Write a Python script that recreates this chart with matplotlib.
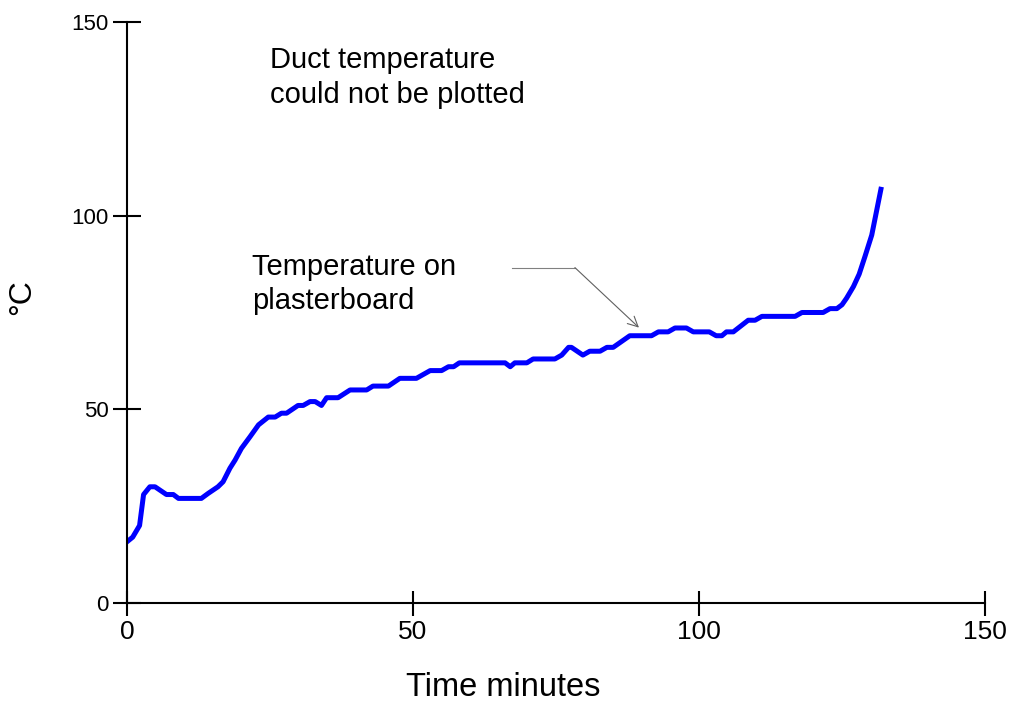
import matplotlib.pyplot as plt

plt.rcParams['font.family'] = ['Liberation Sans', 'DejaVu Sans']

# time (minutes) and temperature on plasterboard (deg C)
time_min = [0, 1.0, 2.2, 2.9, 4.0, 4.9, 6.9, 8.1, 9.0, 13.0, 14.2, 15.9, 16.8, 18.0,
            18.9, 20.0, 21.5, 23.0, 24.7, 25.9, 27.0, 27.9, 29.9, 30.8, 32.0, 32.9,
            34.0, 34.9, 36.9, 39.0, 41.9, 43.0, 45.7, 47.7, 50.6, 53.0, 55.0, 56.2,
            57.1, 58.1, 66.1, 67.0, 67.8, 69.9, 71.0, 74.8, 76.0, 77.2, 77.7, 79.7,
            80.9, 82.7, 83.9, 85.0, 87.9, 91.7, 92.9, 94.6, 95.8, 97.8, 99.0, 101.8,
            103.0, 104.0, 104.8, 106.0, 108.6, 109.8, 111.0, 116.8, 118.0, 121.7,
            122.9, 124.1, 125.0, 125.8, 127.0, 128.0, 129.0, 130.2, 131.8]
temp_c = [15.8, 17, 20, 28, 30, 30, 28, 28, 27, 27, 28.3, 30, 31.3, 34.8,
          36.9, 39.9, 42.9, 46, 48, 48, 49, 49, 51, 51, 52, 52,
          51, 53, 53, 55, 55, 56, 56, 58, 58, 60, 60, 61,
          61, 62, 62, 61, 62, 62, 63, 63, 64, 66, 66, 64,
          65, 65, 66, 66, 69, 69, 70, 70, 71, 71, 70, 70,
          69, 69, 70, 70, 73, 73, 74, 74, 75, 75,
          76, 76, 77, 78.7, 81.7, 84.9, 89.4, 95, 106.8]

xticks = [0, 50, 100, 150]
yticks = [0, 50, 100, 150]

fig = plt.figure(figsize=(10.11, 7.05), dpi=100)
ax = fig.add_axes([0.1256, 0.1447, 0.8487, 0.8241])

ax.plot(time_min, temp_c, color='#0000ff', lw=3.6, solid_joinstyle='round')

ax.set_xlim(0, 150)
ax.set_ylim(0, 150)
ax.set_xticks(xticks)
ax.set_yticks(yticks)
ax.spines['top'].set_visible(False)
ax.spines['right'].set_visible(False)
for s in ['left', 'bottom']:
    ax.spines[s].set_linewidth(1.5)
ax.tick_params(axis='x', direction='inout', length=18, width=1.5, pad=3, labelsize=19)
ax.tick_params(axis='y', direction='inout', length=20, width=1.5, pad=3, labelsize=16)

ax.set_xlabel('Time minutes', fontsize=23.5)
ax.xaxis.set_label_coords(0.438, -0.118)
ax.set_ylabel('°C', fontsize=23)
ax.yaxis.set_label_coords(-0.105, 0.527)

ax.text(25.0, 143.8, 'Duct temperature\ncould not be plotted', fontsize=21,
        va='top', ha='left', linespacing=1.3)
ax.text(21.9, 90.4, 'Temperature on\nplasterboard', fontsize=21,
        va='top', ha='left', linespacing=1.3)

# leader line to the curve
ax.plot([67.3, 78.3], [86.6, 86.6], color='#808080', lw=0.8)
ax.annotate('', xy=(89.5, 71.1), xytext=(78.3, 86.6),
            arrowprops=dict(arrowstyle='->', color='#606060', lw=0.8,
                            shrinkA=0, shrinkB=0, mutation_scale=18))

fig.savefig('out.png', dpi=100)
